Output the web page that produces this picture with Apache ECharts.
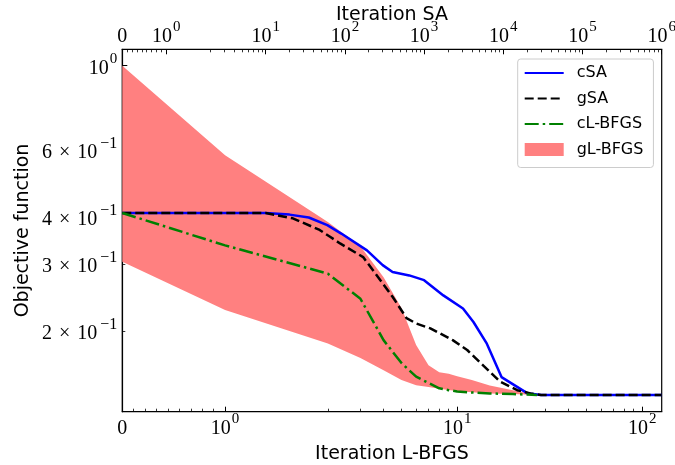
<!DOCTYPE html>
<html><head><meta charset="utf-8">
<script src="https://cdn.jsdelivr.net/npm/echarts@6/dist/echarts.min.js"></script>
<style>html,body{margin:0;padding:0;background:#fff}#c{width:675px;height:465px}</style>
</head><body><div id="c"></div>
<script>
// ---- data ----
const lbfgsIter   = [0, 1, 2, 3, 4, 5, 6, 7, 8, 9, 10, 12, 15, 20, 27];
const cLBFGS      = [0.409, 0.336, 0.283, 0.243, 0.189, 0.1645, 0.1514, 0.1457, 0.1411, 0.1395, 0.1384, 0.1375, 0.1368, 0.1362, 0.1355];
const gLBFGSUpper = [1.0, 0.581, 0.387, 0.334, 0.277, 0.2296, 0.1834, 0.1624, 0.1556, 0.1542, 0.1519, 0.1483, 0.1434, 0.1395, 0.1355];
const gLBFGSLower = [0.304, 0.2268, 0.1853, 0.1695, 0.1575, 0.1483, 0.1438, 0.1421, 0.1408, 0.1397, 0.1387, 0.1378, 0.1368, 0.1362, 0.1355];
const saIterC = [0, 10, 20, 35, 60, 90, 190, 300, 400, 650, 1000, 1750, 3100, 4200, 6200, 9500, 20000, 30000, 1000000];
const cSA     = [0.409, 0.409, 0.405, 0.398, 0.380, 0.361, 0.326, 0.298, 0.286, 0.280, 0.272, 0.248, 0.229, 0.211, 0.185, 0.151, 0.137, 0.1355, 0.1355];
const saIterG = [0, 10, 22, 48, 65, 87, 170, 400, 600, 800, 1200, 2300, 3500, 5600, 9100, 15000, 22000, 30000, 1000000];
const gSA     = [0.409, 0.409, 0.396, 0.369, 0.354, 0.340, 0.313, 0.246, 0.216, 0.209, 0.203, 0.189, 0.178, 0.162, 0.147, 0.1395, 0.1368, 0.1355, 0.1355];
const bottomTicks = [0, 1, 10, 100];
const topTicks    = [0, 1, 10, 100, 1000, 10000, 100000, 1000000];
const yTicks      = [1, 0.6, 0.4, 0.3, 0.2];
const yMinorTicks = [0.9, 0.8, 0.7, 0.5];
const bottomMax = 127.5, topMax = 1000000;
const yMin = 0.1224, yMax = 1.105;

// ---- symlog (base 10, linthresh 2, linscale 1) ----
const LT = 2, LS = 1 / (1 - 1 / 10);
function symlog(x) { return x <= LT ? x / LT * LS : LS + Math.log10(x / LT); }
const lg = Math.log10;

function minorSym(maxDec) {
  const out = [];
  for (let k = 1; k <= 8; k++) out.push(k / 9);
  for (let n = 0; n <= maxDec; n++) for (let m = 2; m <= 9; m++) out.push(m * Math.pow(10, n));
  return out;
}
const bottomMinor = minorSym(1).filter(v => v < bottomMax);
const topMinor = minorSym(5).filter(v => v < topMax);

function xLabel(T, ticks) {
  for (const v of ticks) {
    if (Math.abs(symlog(v) - T) < 1e-6) {
      if (v === 0) return '{b|0}';
      return '{b|10}{s|' + Math.round(lg(v)) + '}';
    }
  }
  return '';
}
function yLabel(L) {
  for (const v of yTicks) {
    if (Math.abs(lg(v) - L) < 1e-6) {
      if (v === 1) return '{b|10}{s|0}';
      return '{b|' + Math.round(v * 10) + '}{x|×}{b|10}{m|\u22121}';
    }
  }
  return '';
}
const serif = 'Liberation Serif';
const rich = {
  b: {fontFamily: serif, fontSize: 20, lineHeight: 34, color: '#000'},
  x: {fontFamily: serif, fontSize: 20, lineHeight: 34, color: '#000', padding: [0, 7, 0, 7]},
  s: {fontFamily: serif, fontSize: 15, lineHeight: 20, verticalAlign: 'top', color: '#000', padding: [0, 0, 0, 1]},
  m: {fontFamily: serif, fontSize: 16, lineHeight: 20, verticalAlign: 'top', color: '#000', padding: [0, 0, 0, 3]}
};
const nameStyle = {fontFamily: 'DejaVu Sans', fontSize: 19, color: '#000'};
const blackLine = {show: true, onZero: false, lineStyle: {color: '#000', width: 1.2}};
const noLine = {show: false, onZero: false};

const option = {
  animation: false,
  backgroundColor: '#fff',
  grid: {left: 122.3, right: 13.3, top: 49.3, bottom: 53.3, containLabel: false, outerBoundsMode: 'none',
         show: true, borderColor: '#000', borderWidth: 1.2, backgroundColor: 'transparent'},
  xAxis: [
    {type: 'value', position: 'bottom', min: 0, max: symlog(bottomMax),
     name: 'Iteration L-BFGS', nameLocation: 'middle', nameGap: 33, nameMoveOverlap: false, nameTextStyle: nameStyle,
     axisLine: blackLine, splitLine: {show: false},
     axisTick: {inside: true, length: 5, lineStyle: {color: '#000', width: 1}, customValues: bottomTicks.map(symlog)},
     axisLabel: {customValues: bottomTicks.map(symlog), formatter: v => xLabel(v, bottomTicks), rich: rich, margin: 0}},
    {type: 'value', position: 'top', min: 0, max: symlog(topMax),
     name: 'Iteration SA', nameLocation: 'middle', nameGap: 25, nameMoveOverlap: false, nameTextStyle: nameStyle,
     axisLine: blackLine, splitLine: {show: false},
     axisTick: {inside: true, length: 5, lineStyle: {color: '#000', width: 1}, customValues: topTicks.map(symlog)},
     axisLabel: {customValues: topTicks.map(symlog), formatter: v => xLabel(v, topTicks), rich: rich, margin: -4}},
    {type: 'value', position: 'bottom', min: 0, max: symlog(bottomMax),
     axisLine: noLine, splitLine: {show: false}, axisLabel: {show: false},
     axisTick: {inside: true, length: 3, lineStyle: {color: '#000', width: 0.8}, customValues: bottomMinor.map(symlog)}},
    {type: 'value', position: 'top', min: 0, max: symlog(topMax),
     axisLine: noLine, splitLine: {show: false}, axisLabel: {show: false},
     axisTick: {inside: true, length: 3, lineStyle: {color: '#000', width: 0.8}, customValues: topMinor.map(symlog)}}
  ],
  yAxis: [
    {type: 'value', position: 'left', min: lg(yMin), max: lg(yMax),
     name: 'Objective function', nameLocation: 'middle', nameGap: 90, nameRotate: 90, nameMoveOverlap: false, nameTextStyle: nameStyle,
     axisLine: blackLine, splitLine: {show: false},
     axisTick: {inside: true, length: 5, lineStyle: {color: '#000', width: 1}, customValues: [0]},
     axisLabel: {customValues: yTicks.map(lg), formatter: v => yLabel(v), rich: rich, margin: 5, padding: [6, 0, 0, 0]}},
    {type: 'value', position: 'left', min: lg(yMin), max: lg(yMax),
     axisLine: noLine, splitLine: {show: false}, axisLabel: {show: false},
     axisTick: {inside: true, length: 3, lineStyle: {color: '#000', width: 0.8}, customValues: yTicks.slice(1).concat(yMinorTicks).map(lg)}}
  ],
  legend: {
    orient: 'vertical', left: 517.7, top: 59,
    padding: [6, 10, 10, 6], itemWidth: 39, itemHeight: 13, itemGap: 9.5,
    backgroundColor: 'rgba(255,255,255,0.8)', borderColor: '#cccccc', borderWidth: 1, borderRadius: 3,
    textStyle: {fontFamily: 'DejaVu Sans', fontSize: 16, color: '#000', lineHeight: 16, padding: [0, 0, 0, 8]},
    data: [
      {name: 'cSA', itemStyle: {opacity: 0}},
      {name: 'gSA', itemStyle: {opacity: 0}},
      {name: 'cL-BFGS', itemStyle: {opacity: 0}},
      {name: 'gL-BFGS', icon: 'rect', itemStyle: {color: '#ff8080', opacity: 1}}
    ]
  },
  series: [
    {type: 'custom', name: 'gL-BFGS', xAxisIndex: 0, yAxisIndex: 0, z: 1, clip: true,
     itemStyle: {color: '#ff8080'},
     encode: {x: 0, y: [1, 2]},
     data: lbfgsIter.map((x, i) => [symlog(x), lg(gLBFGSUpper[i]), lg(gLBFGSLower[i])]),
     renderItem: function (params, api) {
       if (params.dataIndexInside !== 0) return;
       const n = params.dataInsideLength;
       const pts = [];
       for (let j = 0; j < n; j++) pts.push(api.coord([api.value(0, j), api.value(1, j)]));
       for (let j = n - 1; j >= 0; j--) pts.push(api.coord([api.value(0, j), api.value(2, j)]));
       return {type: 'polygon', shape: {points: pts}, style: {fill: '#ff8080'}};
     }},
    {type: 'line', name: 'cSA', xAxisIndex: 1, yAxisIndex: 0, symbol: 'none', z: 3,
     itemStyle: {color: '#0000ff'}, lineStyle: {color: '#0000ff', width: 2.5},
     data: saIterC.map((x, i) => [symlog(x), lg(cSA[i])])},
    {type: 'line', name: 'gSA', xAxisIndex: 1, yAxisIndex: 0, symbol: 'none', z: 4,
     itemStyle: {color: '#000'}, lineStyle: {color: '#000', width: 2.5, type: [9, 4]},
     data: saIterG.map((x, i) => [symlog(x), lg(gSA[i])])},
    {type: 'line', name: 'cL-BFGS', xAxisIndex: 0, yAxisIndex: 0, symbol: 'none', z: 5,
     itemStyle: {color: '#008000'}, lineStyle: {color: '#008000', width: 2.5, type: [14, 4, 2.5, 4]},
     data: lbfgsIter.map((x, i) => [symlog(x), lg(cLBFGS[i])])}
  ]
};
const chart = echarts.init(document.getElementById('c'), null, {renderer: 'canvas'});
chart.setOption(option);
</script></body></html>
